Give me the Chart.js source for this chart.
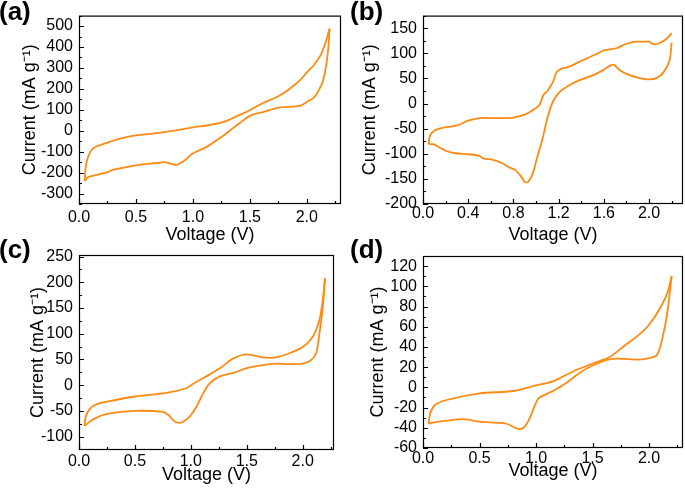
<!DOCTYPE html>
<html>
<head>
<meta charset="utf-8">
<script src="https://cdn.jsdelivr.net/npm/chart.js@4.4.1/dist/chart.umd.min.js"></script>
<style>
body { margin: 0; background: #fff; }
canvas { position: absolute; }
</style>
</head>
<body>
<canvas id="cvA" width="343" height="250" style="left:0px;top:0px"></canvas>
<canvas id="cvB" width="343" height="250" style="left:342px;top:0px"></canvas>
<canvas id="cvC" width="343" height="250" style="left:0px;top:238px"></canvas>
<canvas id="cvD" width="343" height="250" style="left:342px;top:238px"></canvas>
<script>
// (a) anodic scan (0.05 -> 2.2 V) and cathodic scan (2.2 -> 0.05 V)
const aUpVoltage = [0.05, 0.06, 0.08, 0.11, 0.155, 0.2, 0.27, 0.36, 0.5, 0.65, 0.83, 1.0, 1.12, 1.24, 1.3, 1.39, 1.5, 1.62, 1.75, 1.85, 1.95, 2.0, 2.06, 2.12, 2.16, 2.2];
const aUpCurrent = [-240, -170, -124, -92, -74, -66, -53, -38, -22, -14, 0, 16, 25, 37, 48, 71, 98, 134, 165, 201, 247, 279, 313, 360, 414, 488];
const aDownVoltage = [2.2, 2.19, 2.17, 2.14, 2.1, 2.06, 2.01, 1.95, 1.9, 1.82, 1.75, 1.62, 1.5, 1.4, 1.36, 1.25, 1.12, 1.0, 0.92, 0.86, 0.82, 0.78, 0.75, 0.71, 0.62, 0.5, 0.35, 0.3, 0.25, 0.2, 0.13, 0.08, 0.05];
const aDownCurrent = [488, 406, 313, 235, 188, 157, 141, 121, 116, 113, 110, 90, 71, 32, 16, -30, -77, -108, -145, -163, -160, -153, -150, -153, -157, -166, -181, -186, -198, -205, -214, -222, -240];
const aXTicks = [0, 0.5, 1, 1.5, 2];
const aYTicks = [-300, -200, -100, 0, 100, 200, 300, 400, 500];

// (b)
const bUpVoltage = [0.05, 0.06, 0.1, 0.18, 0.31, 0.4, 0.5, 0.6, 0.68, 0.8, 0.91, 0.98, 1.03, 1.065, 1.1, 1.15, 1.18, 1.22, 1.26, 1.32, 1.38, 1.44, 1.5, 1.55, 1.6, 1.71, 1.79, 1.88, 1.95, 2.0, 2.04, 2.09, 2.15, 2.2];
const bUpCurrent = [-81, -65, -54, -48, -43, -34, -29, -29, -29, -28, -21, -12, -3, 17, 25, 43, 62, 69, 71, 76, 83, 89, 95, 100, 106, 110, 118, 123, 123, 123, 118, 120, 128, 140];
const bDownVoltage = [2.2, 2.18, 2.13, 2.07, 2.0, 1.91, 1.82, 1.74, 1.69, 1.66, 1.59, 1.5, 1.38, 1.29, 1.21, 1.15, 1.1, 1.06, 1.01, 0.97, 0.93, 0.9, 0.87, 0.82, 0.76, 0.71, 0.62, 0.53, 0.5, 0.4, 0.29, 0.21, 0.15, 0.09, 0.05];
const bDownCurrent = [121, 85, 63, 51, 48, 51, 57, 66, 77, 76, 66, 56, 46, 36, 23, 4, -29, -68, -107, -140, -156, -156, -146, -133, -127, -120, -112, -109, -104, -101, -99, -95, -88, -81, -81];
const bXTicks = [0, 0.4, 0.8, 1.2, 1.6, 2.0];
const bYTicks = [-200, -150, -100, -50, 0, 50, 100, 150];

// (c)
const cUpVoltage = [0.05, 0.06, 0.1, 0.16, 0.25, 0.5, 0.78, 0.96, 1.0, 1.12, 1.26, 1.38, 1.5, 1.64, 1.76, 1.88, 2.0, 2.09, 2.15, 2.18, 2.2];
const cUpCurrent = [-79, -61, -45, -37, -32, -22, -15, -6, 0, 15, 33, 52, 60, 54, 54, 62, 74, 94, 127, 166, 208];
const cDownVoltage = [2.2, 2.18, 2.15, 2.12, 2.07, 2.0, 1.88, 1.76, 1.64, 1.5, 1.38, 1.26, 1.17, 1.11, 1.05, 0.99, 0.93, 0.885, 0.84, 0.8, 0.75, 0.5, 0.25, 0.13, 0.05];
const cDownCurrent = [208, 153, 101, 62, 48, 42, 41, 42, 39, 33, 24, 17, 4, -16, -42, -61, -71, -73, -68, -58, -52, -50, -56, -66, -79];
const cXTicks = [0, 0.5, 1, 1.5, 2];
const cYTicks = [-100, -50, 0, 50, 100, 150, 200, 250];

// (d)
const dUpVoltage = [0.05, 0.065, 0.11, 0.21, 0.5, 0.8, 1.0, 1.15, 1.33, 1.5, 1.65, 1.79, 1.91, 2.0, 2.09, 2.16, 2.2];
const dUpCurrent = [-36, -25, -17, -12.5, -6, -3.6, 2, 6, 16, 23.6, 30, 42, 52, 62, 77, 93, 110];
const dDownVoltage = [2.2, 2.16, 2.12, 2.07, 2.0, 1.91, 1.82, 1.71, 1.62, 1.5, 1.38, 1.27, 1.15, 1.03, 1.0, 0.94, 0.89, 0.84, 0.74, 0.65, 0.5, 0.36, 0.21, 0.09, 0.05];
const dDownCurrent = [110, 73, 50, 32, 29, 27.5, 28, 28.5, 27, 21.6, 14, 4.6, -3.6, -10, -15, -31.5, -40, -41, -36, -35, -34, -31.5, -33, -35, -36];
const dXTicks = [0, 0.5, 1, 1.5, 2];
const dYTicks = [-60, -40, -20, 0, 20, 40, 60, 80, 100, 120];

const ORANGE = '#ff8a12';
Chart.defaults.font.family = '"Liberation Sans", Arial, sans-serif';
Chart.defaults.color = '#000';

// box frame + inward major/minor ticks + panel letter
const frameTicks = {
  id: 'frameTicks',
  afterDraw(chart, args, o) {
    const {ctx, chartArea: a, scales: {x, y}} = chart;
    ctx.save();
    ctx.strokeStyle = '#000';
    ctx.lineWidth = 1.2;
    ctx.beginPath();
    for (let v = x.min; v <= x.max + 1e-9; v += o.xMinor) {
      const major = Math.abs(v / (o.xMinor * 2) - Math.round(v / (o.xMinor * 2))) < 1e-6;
      const px = Math.round(x.getPixelForValue(v)) + 0.5;
      ctx.moveTo(px, a.bottom);
      ctx.lineTo(px, a.bottom - (major ? 5 : 3));
    }
    const y0 = Math.ceil(y.min / o.yMinor) * o.yMinor;
    for (let v = y0; v <= y.max + 1e-9; v += o.yMinor) {
      const major = Math.abs(v / (o.yMinor * 2) - Math.round(v / (o.yMinor * 2))) < 1e-6;
      const py = Math.round(y.getPixelForValue(v)) + 0.5;
      ctx.moveTo(a.left, py);
      ctx.lineTo(a.left + (major ? 5 : 3), py);
    }
    ctx.stroke();
    ctx.strokeRect(a.left + 0.5, a.top + 0.5, a.right - a.left - 1, a.bottom - a.top - 1);
    ctx.fillStyle = '#000';
    ctx.font = 'bold 26px "Liberation Sans", Arial, sans-serif';
    ctx.textBaseline = 'alphabetic';
    ctx.fillText(o.label, o.lx, o.ly);
    ctx.restore();
  }
};

function branch(volt, curr) {
  return {
    data: volt.map((v, i) => ({x: v, y: curr[i]})),
    showLine: true,
    borderColor: ORANGE,
    borderWidth: 1.8,
    pointRadius: 0,
    tension: 0.3,
    fill: false
  };
}

function makeChart(id, up, down, xTicks, yTicks, p) {
  return new Chart(document.getElementById(id), {
    type: 'scatter',
    data: {datasets: [branch(up[0], up[1]), branch(down[0], down[1])]},
    options: {
      responsive: false,
      animation: false,
      layout: {padding: {left: 0, right: p.right, top: p.top, bottom: 0}},
      plugins: {
        legend: {display: false},
        tooltip: {enabled: false},
        frameTicks: {label: p.label, lx: p.lx, ly: p.ly, xMinor: p.xMinor, yMinor: p.yMinor}
      },
      scales: {
        x: {
          type: 'linear',
          min: 0,
          max: p.xMax,
          grid: {display: false, drawTicks: false},
          border: {display: false},
          afterBuildTicks: s => { s.ticks = xTicks.map(v => ({value: v})); },
          afterFit: s => { s.height = 250 - p.bottom; },
          ticks: {
            padding: p.xPad,
            maxRotation: 0,
            autoSkip: false,
            font: {size: 16},
            callback: v => v.toFixed(1)
          },
          title: {
            display: true,
            text: 'Voltage (V)',
            font: {size: 18},
            padding: {top: 0, bottom: p.xTitlePad}
          }
        },
        y: {
          min: p.yMin,
          max: p.yMax,
          grid: {display: false, drawTicks: false},
          border: {display: false},
          afterBuildTicks: s => { s.ticks = yTicks.map(v => ({value: v})); },
          afterFit: s => { s.width = p.left; },
          ticks: {
            padding: 6,
            autoSkip: false,
            font: {size: 16},
            callback: v => String(v)
          },
          title: {
            display: true,
            text: 'Current (mA g⁻¹)',
            font: {size: 18},
            padding: {top: p.yTitlePad, bottom: 0}
          }
        }
      }
    },
    plugins: [frameTicks]
  });
}

makeChart('cvA', [aUpVoltage, aUpCurrent], [aDownVoltage, aDownCurrent], aXTicks, aYTicks, {
  label: '(a)', lx: -1, ly: 20, left: 79, right: 2, top: 13, bottom: 204,
  xMax: 2.3, yMin: -350, yMax: 550, xMinor: 0.25, yMinor: 50,
  xPad: 4, xTitlePad: 4, yTitlePad: 19
});
makeChart('cvB', [bUpVoltage, bUpCurrent], [bDownVoltage, bDownCurrent], bXTicks, bYTicks, {
  label: '(b)', lx: 8, ly: 20, left: 81, right: 2, top: 13, bottom: 204,
  xMax: 2.3, yMin: -200, yMax: 175, xMinor: 0.2, yMinor: 25,
  xPad: 0, xTitlePad: 4, yTitlePad: 17
});
makeChart('cvC', [cUpVoltage, cUpCurrent], [cDownVoltage, cDownCurrent], cXTicks, cYTicks, {
  label: '(c)', lx: -1, ly: 20, left: 79, right: 9, top: 17, bottom: 212,
  xMax: 2.28, yMin: -126, yMax: 253, xMinor: 0.25, yMinor: 25,
  xPad: 2, xTitlePad: 2, yTitlePad: 27
});
makeChart('cvD', [dUpVoltage, dUpCurrent], [dDownVoltage, dDownCurrent], dXTicks, dYTicks, {
  label: '(d)', lx: 8, ly: 20, left: 81, right: 2, top: 18, bottom: 210,
  xMax: 2.3, yMin: -60, yMax: 130, xMinor: 0.25, yMinor: 10,
  xPad: 1, xTitlePad: 6, yTitlePad: 25
});
</script>
</body>
</html>
